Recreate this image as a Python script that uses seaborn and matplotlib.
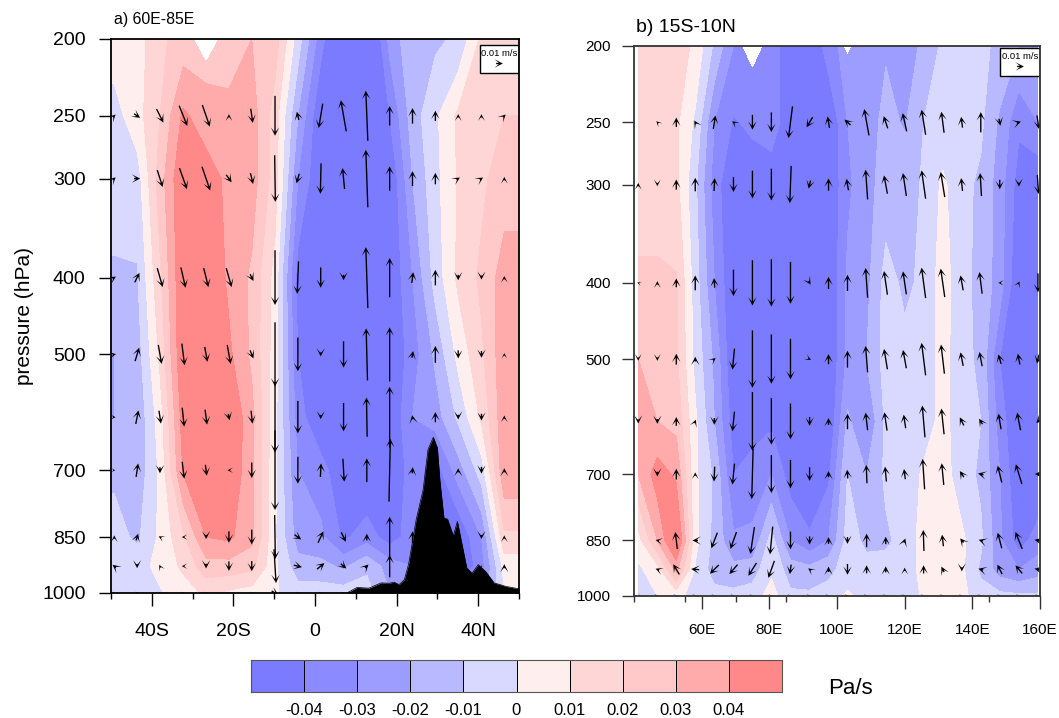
import numpy as np
import matplotlib
matplotlib.use("Agg")
import matplotlib.pyplot as plt
from matplotlib.colors import BoundaryNorm, ListedColormap
from matplotlib.patches import Rectangle
from matplotlib.ticker import NullLocator
import seaborn as sns

# ---------- shared ----------
levels_p = [200, 250, 300, 400, 500, 600, 700, 850, 925, 1000]
gap_p = [200, 225]
ytick_vals = [200, 250, 300, 400, 500, 700, 850, 1000]
contour_levels = [-0.04, -0.03, -0.02, -0.01, 0, 0.01, 0.02, 0.03, 0.04]
cbar_labels = ["-0.04", "-0.03", "-0.02", "-0.01", "0", "0.01", "0.02", "0.03", "0.04"]
band_colors = ["#7b7bff", "#8b8bff", "#9d9dff", "#b9b9ff", "#d9d9ff",
               "#ffeeee", "#ffd6d6", "#ffc9c9", "#ffabab", "#ff8888"]

# ---------- panel a ----------
lon_a = [-49.2, -43.6, -38, -32.3, -26.7, -21.1, -15.5, -9.8, -4.2, 1.4, 7, 12.7, 18.3, 23.9, 29.5, 35.1, 40.8, 46.4]
w_a = [
 [.005,.005,.018,.024,.025,.025,.03,.025,-.005,-.036,-.06,-.06,-.027,-.012,-.012,-.008,.012,.015],
 [-.004,.006,.02,.042,.034,.033,.035,.015,-.02,-.05,-.05,-.05,-.04,-.015,-.002,.012,.015,.02],
 [-.007,-.005,.025,.05,.046,.037,.035,.015,-.03,-.05,-.05,-.05,-.05,-.02,-.003,.011,.018,.025],
 [-.011,-.011,.018,.05,.05,.038,.028,.006,-.045,-.06,-.06,-.06,-.05,-.03,-.006,.012,.022,.035],
 [-.02,-.015,.012,.05,.05,.042,.028,.005,-.04,-.05,-.05,-.05,-.05,-.035,-.018,.003,.018,.037],
 [-.02,-.018,.005,.045,.05,.05,.033,.003,-.035,-.05,-.05,-.05,-.05,-.03,-.025,-.008,.012,.037],
 [-.012,-.017,.002,.041,.05,.05,.032,.002,-.03,-.035,-.05,-.05,-.05,-.035,-.045,-.025,-.005,.038],
 [-.006,-.012,.002,.018,.04,.042,.033,.001,-.025,-.028,-.042,-.035,-.045,-.035,-.05,-.05,-.03,.018],
 [-.006,-.004,.003,.012,.026,.026,.023,.002,-.016,-.017,-.022,-.012,-.025,-.03,-.05,-.05,-.035,.004],
 [-.005,-.005,-.001,.005,.012,.008,.005,.001,-.005,-.005,-.005,-.006,-.02,-.03,-.03,-.03,-.03,.0],
]
gap_a = [0,0,0,0,1,0,0,0,0,0,0,0,0,0,0,0,0,0]
u_a = [
 [.4,.9,1,1.2,1.1,0,.3,0,-.3,-.6,-.8,-.3,0,0,0,0,0,.4],
 [.4,.9,.8,1.1,1.2,.8,.4,.1,-.4,-.1,-.3,-.3,0,0,0,.5,.5,0],
 [.5,.7,.8,.7,.7,.8,.5,0,-.2,0,0,-.3,0,.2,0,0,0,0],
 [.5,.6,.5,.4,.4,.5,.5,0,0,0,0,-.2,0,.2,0,0,0,0],
 [.4,.4,.3,.3,.3,.2,.2,0,0,0,0,-.1,0,-.1,0,0,0,0],
 [.3,.3,0,.3,.2,-.4,0,0,0,.1,.2,0,.2,.1,0,0,0,0],
 [0,.3,-.4,-.4,0,0,0,.1,1,.8,.7,0,0,0,0,0,0,0],
 [-.5,0,-.2,-.4,0,0,0,.3,1.2,1.1,.8,.5,0,0,0,0,0,0],
 [.2,.2,.2,.2,.2,.2,.2,1,.2,.2,.2,.2,.2,.2,.2,.2,.2,.2],
]
v_a = [
 [.4,-.6,-2,-3,-3.2,.5,-2.1,-5.9,1.2,-3.6,4.6,7.4,2.9,2.3,1.5,.5,.5,.4],
 [.4,0,-2.5,-3.1,-3.5,-1.1,-1.6,-6.9,-1.4,-4.5,3.1,8.5,3.6,2.2,1.7,.3,.3,.5],
 [.3,1.4,-2.8,-3,-2.8,-2.8,-1,-8.1,-4.8,-3,-.8,9,5.8,1.6,2.3,-.8,-.6,.5],
 [.1,2,-2.8,-3.2,-2.2,-2.8,-1.2,-9.5,-5,-.6,-3.9,7.7,8,1,2.5,-1.2,-1,.4],
 [0,2,-1.9,-2.8,-2.2,-.9,-1.9,-10.5,-4.8,-.6,-4.2,5.8,9,.6,1.5,-.7,-1,.5],
 [0,2,-.9,-2.5,-1.6,0,-2.3,-11.8,-4,2,-3.4,3.5,9.3,.9,.7,.6,-1,.6],
 [.5,1,.2,0,-.6,-1.7,-2.2,-6.5,-.7,1.7,-1.4,1,6,1.7,0,0,-.6,.5],
 [.4,-.6,.4,0,-.7,-1.4,-1.5,-5,-.3,.9,-.7,.5,3.3,0,0,0,0,.6],
 [0,0,0,0,0,0,0,-.6,0,0,0,0,0,0,0,0,0,0],
]
terrain_lat = [7.8,10.3,13.2,16.2,18.2,19.4,20.6,21.9,23,24.8,26.5,27.7,29,30,30.6,31.6,32.5,33.9,34.9,35.8,37.2,38.5,40,41.8,43.9,46.8,50]
terrain_p = [1000,984,986,971,972,969,976,962,917,808,741,659,636,656,720,804,807,847,812,856,930,944,921,939,971,981,988]

# ---------- panel b ----------
lon_b = [41.25,46.9,52.5,58.1,63.75,69.4,75,80.6,86.25,91.9,97.5,103.1,108.75,114.4,120,125.6,131.25,136.9,142.5,148.1,153.75,159.4]
w_b = [
 [.015,.015,.015,.008,-.012,-.03,-.03,-.033,-.05,-.05,-.035,-.025,-.025,-.021,-.025,-.018,-.008,-.006,-.008,-.012,-.02,-.02],
 [.015,.015,.012,-.002,-.03,-.041,-.038,-.032,-.05,-.05,-.05,-.03,-.025,-.017,-.021,-.01,-.006,-.006,-.008,-.022,-.038,-.03],
 [.013,.013,.013,-.008,-.035,-.05,-.046,-.05,-.055,-.055,-.05,-.032,-.024,-.015,-.014,-.009,.002,-.007,-.012,-.025,-.045,-.05],
 [.023,.023,.021,-.005,-.03,-.05,-.06,-.06,-.06,-.06,-.05,-.028,-.023,-.006,-.012,-.008,.005,-.007,-.013,-.025,-.05,-.05],
 [.03,.024,.022,-.003,-.022,-.05,-.06,-.06,-.06,-.06,-.05,-.028,-.02,-.006,-.007,-.006,.004,-.007,-.012,-.04,-.055,-.05],
 [.036,.03,.027,.002,-.02,-.045,-.045,-.042,-.05,-.05,-.05,-.018,-.03,-.008,-.008,-.006,.004,-.007,-.01,-.035,-.05,-.055],
 [.03,.045,.038,.002,-.012,-.04,-.035,-.03,-.045,-.05,-.042,-.01,-.02,-.008,-.008,.002,.004,-.005,-.012,-.03,-.05,-.05],
 [.006,.03,.055,.003,-.013,-.028,-.028,-.006,-.03,-.038,-.03,-.006,-.012,-.012,-.006,.004,.004,.002,-.008,-.028,-.045,-.035],
 [-.002,.006,.033,-.001,-.015,-.017,-.015,-.002,-.015,-.017,-.012,-.007,-.007,-.006,-.005,.003,.004,.002,-.012,-.025,-.03,-.025],
 [-.012,.0,.003,-.004,-.006,-.007,-.005,.004,-.008,-.008,-.007,.002,-.004,-.004,-.004,.001,.004,.003,-.006,-.007,-.008,-.008],
]
gap_b = [0,0,0,0,0,0,1,0,0,0,0,.6,0,0,0,0,0,0,0,0,0,0]
nan = float("nan")
u_b = [
 [nan,-.3,0,-.3,.3,-.4,0,0,-.6,-.9,-.3,-.9,-.7,-.6,-.6,-.6,-.4,-.2,0,.2,.6,.3],
 [0,0,0,0,.1,0,0,0,-.2,-.3,0,-.3,-.3,-.5,-.5,-.6,-.6,-.2,-.2,0,0,.2],
 [-.3,0,0,0,-.1,0,0,0,0,.3,0,0,-.3,-.5,-.5,-.6,-.6,-.4,-.4,-.4,.2,0],
 [0,0,0,0,.4,-.3,0,0,0,.4,0,0,-.3,-.5,-.5,-.6,-.5,-.4,-.4,-.4,-.3,-.3],
 [0,0,0,.2,0,-.3,0,0,0,0,0,0,-.3,-.4,-.3,-.4,-.4,-.6,-.5,-.4,-.5,-.5],
 [nan,0,0,0,-.1,-.3,-.2,0,0,0,0,-.1,-.1,-.2,-.2,-.3,-.3,-.6,-.8,-.6,-.9,-.9],
 [nan,-.5,-.3,-.8,-.9,-.9,-.6,-.4,0,0,0,0,0,0,.2,-.1,-.2,-.5,-.6,-.6,-1,-1],
 [nan,-.5,-.9,-1.2,-1.3,-1.2,-1.2,-.9,-.2,-.4,0,0,0,0,0,0,-.4,0,-.7,-.7,-1,-1],
 [nan,.3,.3,.3,.3,.3,.3,.3,.3,.3,.3,.3,.3,.3,.3,.3,.3,.3,.3,.3,.3,.3],
]
v_b = [
 [nan,.3,1.4,.5,2,.3,-2.2,-2.9,-4.7,-1.5,1.7,.8,3.9,1.8,2.7,3.7,3.1,1.6,3,-1,.2,-2],
 [.5,-.5,1.5,2,1.9,-2.2,-4.1,-4.7,-5.5,-1.2,1.8,1.7,4.4,2.7,3.4,4.2,3.7,1.9,3.4,-1.4,-.6,-2.8],
 [.1,.5,1.3,2.2,1.4,-3.9,-6.7,-7,-6.2,-.5,1.8,2.4,4.4,3.5,3.4,4.5,4.2,2.2,3.2,0,.4,-2.8],
 [-.5,-.5,1.6,.7,.3,-3.1,-8.5,-7.3,-6,-.2,1.5,2.5,3.9,3,2.7,4.8,4.3,2,2.1,1.4,1.6,-1.3],
 [-.6,-.7,1.3,.5,-1,-2.9,-8.7,-6.9,-5.3,-1.3,1,2.3,2.6,2.7,2,4.7,3.8,1.2,.8,2.3,2.6,-.5],
 [nan,-.7,1.6,.5,-2.2,-3.1,-7.4,-5.6,-4.2,-2,.9,1.3,2.7,2.2,1.5,4.5,3.2,.9,.2,2.5,2.9,0],
 [nan,.1,2.5,0,-2.3,-2.5,-4,-4.1,-2.6,-1.2,1,-1,2,1.1,.6,3.1,1.7,.6,.2,2.3,2.5,.2],
 [nan,.2,1.5,.1,-1.3,-1.4,-1.9,-2.5,-1.4,.3,.8,-1.6,1.2,.9,.5,1.2,.8,-.6,.2,1.4,1.2,.2],
 [nan,0,0,0,0,0,0,0,0,0,0,0,0,0,0,0,0,0,0,0,0,0],
]

# ---------- style ----------
sns.set_theme(style="ticks")
plt.rcParams["font.family"] = ["Liberation Sans", "DejaVu Sans"]
plt.rcParams.update({"text.color": "black", "axes.labelcolor": "black",
                     "xtick.labelcolor": "black", "ytick.labelcolor": "black"})
palette = sns.color_palette(band_colors)
cmap = ListedColormap(palette)
norm = BoundaryNorm(contour_levels, ncolors=len(band_colors), extend="both")

W, H = 1059, 718
fig = plt.figure(figsize=(W / 100, H / 100), dpi=100)


def px_axes(left, right, top, bottom):
    return fig.add_axes([left / W, 1 - bottom / H, (right - left) / W, (bottom - top) / H])


def key_box(ax, q, box_px, axes_px):
    l, r, t, b = axes_px
    x0, x1, y0, y1 = box_px
    fx0, fx1 = (x0 - l) / (r - l), (x1 - l) / (r - l)
    fy0, fy1 = (b - y1) / (b - t), (b - y0) / (b - t)
    ax.add_patch(Rectangle((fx0, fy0), fx1 - fx0, fy1 - fy0, transform=ax.transAxes,
                           fc="white", ec="black", lw=1, zorder=6))
    return ax.quiverkey(q, (fx0 + fx1) / 2, fy0 + (fy1 - fy0) * 0.36, 1, "0.01 m/s",
                        labelpos="N", coordinates="axes", labelsep=0.05,
                        fontproperties={"size": 6.8, "family": "Liberation Sans"}, zorder=7)


def panel(axes_px, lon, w, gap, u, v, xlim, major, minor, xlabels, title, title_fs, title_pad,
          title_dx, tick_fs, ypad, xpad, spine_col, box_px, pad_edges):
    ax = px_axes(*axes_px)
    w = np.array(w)
    x = np.array(lon, float)
    g = np.array(gap, float)
    if pad_edges:
        x = np.r_[xlim[0], x, xlim[1]]
        w = np.c_[w[:, 0], w, w[:, -1]]
        g = np.r_[0, g, 0]
    ax.set_yscale("log")
    ax.contourf(x, levels_p, w, levels=contour_levels, cmap=cmap, norm=norm, extend="both", zorder=1)
    ax.contourf(x, gap_p, np.vstack([g, g * 0]), levels=[0.5, 2], colors=["white"], zorder=2)
    X, Y = np.meshgrid(lon, levels_p[1:])
    q = ax.quiver(X, Y, np.array(u), np.array(v), angles="uv", units="dots", scale_units="dots",
                  scale=1 / 6.76, width=1.35, headwidth=6.2, headlength=6.2, headaxislength=3.0,
                  minshaft=0.5, pivot="mid", color="black", zorder=5, clip_on=True)
    ax.set_xlim(*xlim)
    ax.set_ylim(1000, 200)
    ax.set_yticks(ytick_vals, [str(t) for t in ytick_vals])
    ax.yaxis.set_minor_locator(NullLocator())
    ax.set_xticks(major, xlabels)
    ax.set_xticks(minor, minor=True)
    ax.tick_params(axis="y", length=8.8, width=1, pad=ypad, labelsize=tick_fs, color=spine_col)
    ax.tick_params(axis="x", which="major", length=9.6, width=1, pad=xpad, labelsize=tick_fs, color=spine_col)
    ax.tick_params(axis="x", which="minor", length=4.6, width=1, color=spine_col)
    for s in ax.spines.values():
        s.set_visible(True)
        s.set_linewidth(1.3)
        s.set_color(spine_col)
        s.set_zorder(8)
    t = ax.set_title(title, loc="left", fontsize=title_fs, pad=title_pad)
    t.set_x(title_dx / (axes_px[1] - axes_px[0]))
    key_box(ax, q, box_px, axes_px)
    return ax


ax_a = panel((111, 519, 39, 593), lon_a, w_a, gap_a, u_a, v_a, (-50, 50),
             [-40, -20, 0, 20, 40], [-50, -30, -10, 10, 30, 50],
             ["40S", "20S", "0", "20N", "40N"], "a) 60E-85E", 11.4, 11, 3,
             14, 9.5, 12, "black", (480, 518.5, 45, 73), True)
ax_a.set_ylabel("pressure (hPa)", fontsize=15, labelpad=6)
sns.lineplot(x=terrain_lat, y=terrain_p, ax=ax_a, color="black", lw=0.5, zorder=4, estimator=None, sort=False)
ax_a.fill_between(terrain_lat, terrain_p, 1000, color="black", lw=0, zorder=4)
ax_a.set_xlim(-50, 50)
ax_a.set_ylim(1000, 200)

ax_b = panel((634, 1040, 46, 596), lon_b, w_b, gap_b, u_b, v_b, (40, 160),
             [60, 80, 100, 120, 140, 160], [40, 55, 70, 85, 145],
             ["60E", "80E", "100E", "120E", "140E", "160E"], "b) 15S-10N", 14, 10, 2,
             11, 8, 9.5, "#333333", (1000, 1040, 48, 76), False)

# ---------- colour bar ----------
cax = px_axes(251, 782, 660, 692)
sns.heatmap(np.arange(len(band_colors)).reshape(1, -1), ax=cax, cmap=cmap, cbar=False,
            linewidths=0.7, linecolor="black", xticklabels=False, yticklabels=False, square=False)
cax.set_xticks(np.arange(1, len(band_colors)), cbar_labels)
cax.set_yticks([])
cax.tick_params(axis="x", length=0, pad=8, labelsize=12)
for s in cax.spines.values():
    s.set_visible(True)
    s.set_linewidth(0.8)
    s.set_color("#555555")

fig.text(828 / W, 1 - 689 / H, "Pa/s", fontsize=16, va="center", ha="left", color="black")

fig.savefig("out.png", dpi=100)
